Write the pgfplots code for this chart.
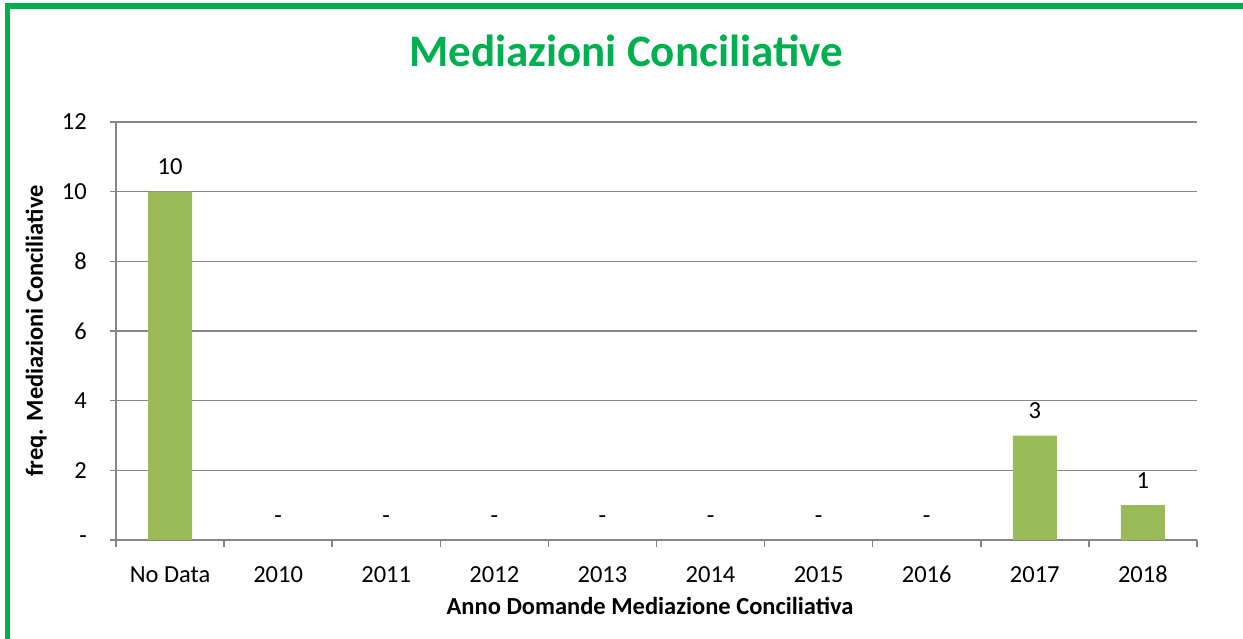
\documentclass[border=0pt]{standalone}
\usepackage{fontspec}
\setmainfont{Carlito}
\usepackage{pgfplots}
\pgfplotsset{compat=1.18}
\definecolor{bargreen}{HTML}{9BBB59}
\definecolor{titlegreen}{HTML}{00B050}
\definecolor{axgray}{HTML}{868686}
\begin{document}
\begin{tikzpicture}
\path[use as bounding box] (0pt,0pt) rectangle (1243pt,638pt);
\draw[titlegreen, line width=5.5pt] (7.5pt,-5pt) -- (7.5pt,632pt) -- (1250pt,632pt);
\node[anchor=base, font=\fontsize{45}{52}\selectfont\bfseries, text=titlegreen] at (626pt,571pt) {Mediazioni Conciliative};
\begin{axis}[
  at={(116pt,98pt)}, anchor=south west,
  scale only axis, width=1081pt, height=418pt,
  xmin=-0.5, xmax=9.5, ymin=0, ymax=12,
  axis x line*=bottom, axis y line*=left,
  axis line style={draw=axgray, line width=1.5pt, -},
  ytick={0,2,4,6,8,10,12},
  yticklabels={-,2,4,6,8,10,12},
  xtick={0,...,9},
  xticklabels={No Data,2010,2011,2012,2013,2014,2015,2016,2017,2018},
  minor xtick={-0.5,0.5,...,9.5},
  tick align=outside,
  major tick length=6pt, minor tick length=7pt,
  major x tick style={draw=none},
  y tick style={draw=axgray, line width=1.5pt},
  minor x tick style={draw=axgray, line width=1.5pt},
  ymajorgrids, grid style={draw=axgray, line width=1.5pt},
  yticklabel style={font=\fontsize{24.5}{29}\selectfont, anchor=east, inner sep=0pt, xshift=-23pt},
  xticklabel style={font=\fontsize{24.5}{29}\selectfont, anchor=base, inner sep=0pt, yshift=-36pt},
  ybar, bar width=44pt,
  point meta=explicit symbolic,
  nodes near coords,
  every node near coord/.append style={font=\fontsize{24.5}{29}\selectfont, anchor=base, inner sep=0pt, yshift=17pt},
  clip=false,
]
\addplot[fill=bargreen, draw=none] coordinates {
  (0,10) [10]
  (1,0) [-]
  (2,0) [-]
  (3,0) [-]
  (4,0) [-]
  (5,0) [-]
  (6,0) [-]
  (7,0) [-]
  (8,3) [3]
  (9,1) [1]
};
\end{axis}
\node[anchor=base, font=\fontsize{24.5}{29}\selectfont\bfseries] at (650pt,24pt) {Anno Domande Mediazione Conciliativa};
\node[anchor=base, rotate=90, font=\fontsize{24.5}{29}\selectfont\bfseries] at (43pt,307pt) {freq. Mediazioni Conciliative};
\end{tikzpicture}
\end{document}
